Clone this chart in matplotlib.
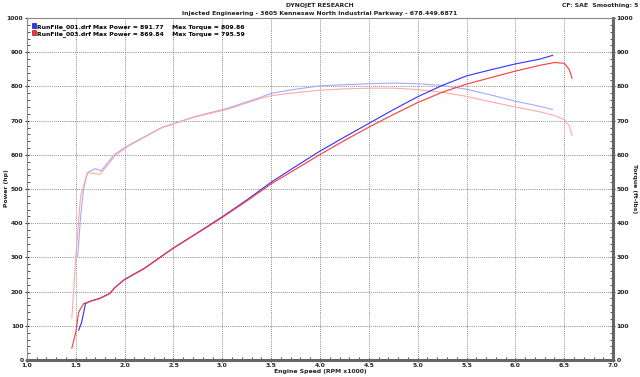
import numpy as np
import matplotlib
matplotlib.use('Agg')
import matplotlib.pyplot as plt
from matplotlib.patches import Patch
from matplotlib.ticker import MultipleLocator

# power curves (hp) vs engine speed (rpm x1000)
rpm_p1 = [1.53, 1.56, 1.60, 1.65, 1.75, 1.85, 1.90, 2.00, 2.20, 2.50, 2.75, 3.00, 3.25, 3.50,
          3.75, 4.00, 4.25, 4.50, 4.75, 5.00, 5.25, 5.50, 5.75, 6.00, 6.25, 6.38]
hp_1 = [87, 110, 165, 172, 181, 195, 212, 236, 268, 328, 373, 419, 468, 520,
        566, 611, 652, 692, 732, 770, 803, 831, 849, 866, 880, 891]
rpm_p3 = [1.46, 1.50, 1.53, 1.58, 1.65, 1.75, 1.85, 1.90, 2.00, 2.20, 2.50, 2.75, 3.00, 3.25, 3.50,
          3.75, 4.00, 4.25, 4.50, 4.75, 5.00, 5.25, 5.50, 5.75, 6.00, 6.25, 6.40, 6.50, 6.55, 6.58]
hp_3 = [35, 80, 140, 165, 172, 180, 195, 212, 235, 267, 327, 372, 417, 465, 515,
        558, 601, 642, 681, 718, 753, 783, 807, 826, 845, 862, 870, 868, 850, 824]

# torque curves (ft-lbs)
rpm_t1 = [1.52, 1.55, 1.58, 1.62, 1.70, 1.76, 1.90, 2.04, 2.38, 2.72, 3.05, 3.39, 3.50, 3.75,
          4.00, 4.25, 4.50, 4.75, 5.00, 5.25, 5.50, 5.75, 6.00, 6.20, 6.38]
tq_1 = [300, 420, 500, 548, 560, 553, 602, 628, 680, 712, 736, 768, 780, 792,
        802, 805, 808, 810, 808, 803, 792, 775, 757, 745, 733]
rpm_t3 = [1.46, 1.50, 1.55, 1.62, 1.75, 1.90, 2.04, 2.38, 2.72, 3.05, 3.39, 3.50, 3.75,
          4.00, 4.25, 4.50, 4.75, 5.00, 5.25, 5.50, 5.75, 6.00, 6.25, 6.40, 6.50, 6.55, 6.58]
tq_3 = [122, 300, 480, 548, 543, 597, 626, 679, 711, 733, 765, 773, 782,
        789, 793, 795, 795, 791, 783, 771, 755, 740, 726, 715, 703, 685, 657]

legend_labels = ['RunFile_001.drf Max Power = 891.77    Max Torque = 809.86',
                 'RunFile_003.drf Max Power = 869.84    Max Torque = 795.59']

plt.rcParams['font.family'] = ['DejaVu Sans']
fs = 4.4
fig = plt.figure(figsize=(6.4, 3.77), dpi=100)
ax = fig.add_axes([0.042, 0.045, 0.916, 0.907])

ax.plot(rpm_t1, tq_1, color='#a8a8ff', lw=0.8)
ax.plot(rpm_t3, tq_3, color='#ffa8a8', lw=0.8)
ax.plot(rpm_p1, hp_1, color='#3030ff', lw=0.8)
ax.plot(rpm_p3, hp_3, color='#ff3838', lw=0.8)

ax.set_xlim(1.0, 7.0)
ax.set_ylim(0, 1000)
ax.xaxis.set_major_locator(MultipleLocator(0.5))
ax.xaxis.set_minor_locator(MultipleLocator(0.1))
ax.yaxis.set_major_locator(MultipleLocator(100))
ax.yaxis.set_minor_locator(MultipleLocator(20))
ax.xaxis.set_major_formatter(matplotlib.ticker.FormatStrFormatter('%.1f'))
ax.grid(True, which='major', color='#555555', linestyle=(0, (1, 1.5)), lw=0.55)

ax.tick_params(which='both', labelsize=fs, pad=1, colors='#333333', labelcolor='#222222')
ax.tick_params(which='major', length=3, direction='inout')
ax.tick_params(which='minor', length=2, direction='in')
ax.tick_params(axis='x', pad=0.5)
ax.tick_params(axis='y', which='both', left=True, right=True, labelright=True)
for lab in ax.get_xticklabels() + ax.get_yticklabels():
    lab.set_fontweight('bold')

for s in ['left', 'top']:
    ax.spines[s].set_color('#888888')
    ax.spines[s].set_linewidth(0.8)
for s in ['right', 'bottom']:
    ax.spines[s].set_color('#666666')
    ax.spines[s].set_linewidth(2.2)

ax.set_xlabel('Engine Speed (RPM x1000)', fontsize=fs, fontweight='bold', labelpad=0.5, color='#222222')
fig.text(0.010, 0.50, 'Power (hp)', rotation=90, fontsize=fs, fontweight='bold',
         ha='center', va='center', color='#222222')
fig.text(0.992, 0.50, 'Torque (ft-lbs)', rotation=-90, fontsize=fs, fontweight='bold',
         ha='center', va='center', color='#222222')

fig.text(0.5, 0.992, 'DYNOJET RESEARCH', ha='center', va='top', fontsize=fs, fontweight='bold', color='#222222')
fig.text(0.5, 0.972, 'Injected Engineering - 3605 Kennesaw North Industrial Parkway - 678.449.6871',
         ha='center', va='top', fontsize=fs, fontweight='bold', color='#222222')
fig.text(0.998, 0.992, 'CF: SAE  Smoothing: 5', ha='right', va='top', fontsize=fs, fontweight='bold', color='#222222')

handles = [Patch(facecolor='#3030ff', edgecolor='#000080', lw=0.4),
           Patch(facecolor='#ff3030', edgecolor='#800000', lw=0.4)]
ax.legend(handles, legend_labels, loc='upper left', frameon=False,
          handlelength=0.7, handleheight=0.9, handletextpad=0.2, labelspacing=0.1,
          borderaxespad=0.4, prop={'weight': 'bold', 'size': fs})

fig.savefig('out.png', dpi=100)
